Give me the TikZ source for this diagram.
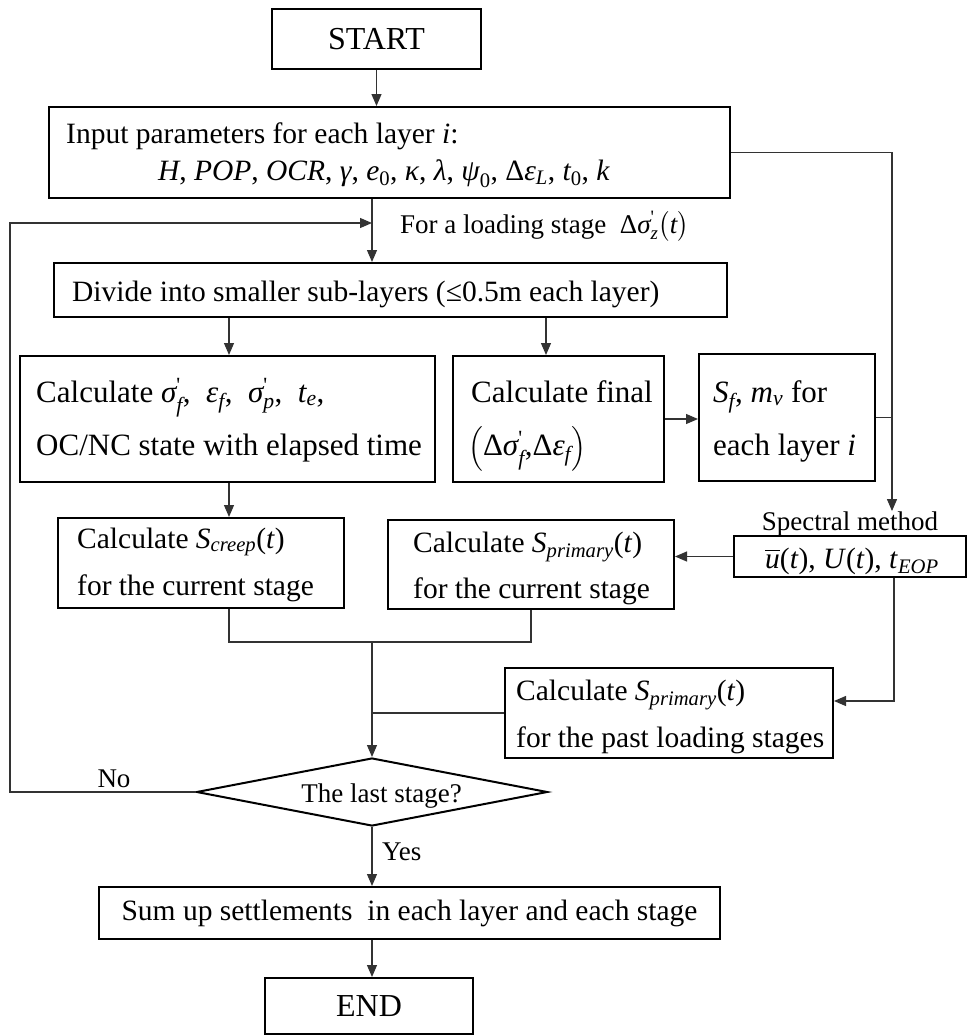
\documentclass[tikz,border=0pt]{standalone}
\usepackage{amsmath}
\usepackage{fontspec}
\setmainfont{Liberation Serif}
\usetikzlibrary{arrows.meta,shapes.geometric,calc}
\newcommand\iv[1]{\text{\itshape #1}}
\newcommand\tck{\text{\textquotesingle}}
\begin{document}
\begin{tikzpicture}[x=1pt,y=-1pt,
 box/.style={draw, line width=2pt, rectangle, inner sep=0pt},
 conn/.style={line width=1.2pt, draw=black!80},
 arr/.style={conn, -{Triangle[length=12pt,width=10pt]}},
 tA/.style={font=\fontsize{29.5}{34}\selectfont, inner sep=0pt},
 tB/.style={font=\fontsize{31}{36}\selectfont, inner sep=0pt},
 tS/.style={font=\fontsize{27}{32}\selectfont, inner sep=0pt},
 tT/.style={font=\fontsize{32}{38}\selectfont, inner sep=0pt}]
\useasboundingbox (0,0) rectangle (969,1036);
% helper coordinates
\coordinate (trunk) at (372,0);
\coordinate (loopx) at (10,0);
\coordinate (stagey) at (0,223);
\coordinate (rx) at (892,0);
\coordinate (rx2) at (894,0);
\coordinate (cx) at (229,0);
\coordinate (fx) at (546,0);
\coordinate (my) at (0,642);
\coordinate (pasty) at (0,701);
% boxes
\node[box, tT, minimum width=209pt, minimum height=60pt] (start) at (376.5,39) {START};
\node[box, minimum width=681pt, minimum height=91pt] (input) at (389.5,152.5) {};
\node[box, minimum width=673pt, minimum height=54pt] (divide) at (390.5,290) {};
\node[box, minimum width=415pt, minimum height=126pt] (calc1) at (227.5,419) {};
\node[box, minimum width=211pt, minimum height=126pt] (final) at (558.5,419) {};
\node[box, minimum width=176pt, minimum height=127pt] (sf) at (787,417.5) {};
\node[box, minimum width=232pt, minimum height=41pt] (spec) at (850,556.5) {};
\node[box, minimum width=286pt, minimum height=90pt] (creep) at (201,563) {};
\node[box, minimum width=286pt, minimum height=89pt] (prim) at (531,564.5) {};
\node[box, minimum width=328pt, minimum height=90pt] (past) at (669,713) {};
\node[draw, line width=2pt, diamond, inner sep=0pt, minimum width=351pt, minimum height=68pt] (dia) at (372,792) {};
\node[box, tA, minimum width=621pt, minimum height=52pt] (sum) at (409.5,913) {Sum up settlements\ \ in each layer and each stage};
\node[box, tT, minimum width=208pt, minimum height=56pt] (end) at (369,1006) {END};
% texts
\node[tA, anchor=base west] (in1) at (66,143) {Input parameters for each layer \textit{i}:};
\node[tA, anchor=base] (in2) at (384,180) {\textit{H}, \textit{POP}, \textit{OCR}, \textit{γ}, $\iv{e}_{\text{0}}$, \textit{κ}, \textit{λ}, $\iv{ψ}_{\text{0}}$, $\text{Δ}\iv{ε}_{\iv{L}}$, $\iv{t}_{\text{0}}$, \textit{k}};
\node[tS, anchor=base west] (stage) at (400,233) {For a loading stage\ \ $\text{Δ}\iv{σ}^{\tck}_{\iv{z}}\bigl(\iv{t}\bigr)$};
\node[tA, anchor=base west] (divt) at (72,301) {Divide into smaller sub-layers (≤0.5m each layer)};
\node[tB, anchor=base west] (c1a) at (36,402) {Calculate $\iv{σ}^{\tck}_{\iv{f}}$,\ \ $\iv{ε}_{\iv{f}}$,\ \ $\iv{σ}^{\tck}_{\iv{p}}$,\ \ $\iv{t}_{\iv{e}}$,};
\node[tB, anchor=base west] (c1b) at (36,455) {OC/NC state with elapsed time};
\node[tB, anchor=base west] (fa) at (471,402) {Calculate final};
\node[tB, anchor=base west] (fb) at (468,455) {$\Bigl(\text{Δ}\iv{σ}^{\tck}_{\iv{f}}\text{,}\text{Δ}\iv{ε}_{\iv{f}}\Bigr)$};
\node[tB, anchor=base west] (sfa) at (713,402) {$\iv{S}_{\iv{f}}$, $\iv{m}_{\iv{v}}$\ for};
\node[tB, anchor=base west] (sfb) at (713,455) {each layer \textit{i}};
\node[tS, anchor=base] (spectitle) at (850,530) {Spectral method};
\node[tA, anchor=base west] (spect) at (765,568) {$\overline{\iv{u}}$(\textit{t}), \textit{U}(\textit{t}), \textit{t}$_{\iv{EOP}}$};
\node[tA, anchor=base west] (cra) at (77,548) {Calculate \textit{S}$_{\iv{creep}}$(\textit{t})};
\node[tA, anchor=base west] (crb) at (77,595) {for the current stage};
\node[tA, anchor=base west] (pra) at (413,552) {Calculate \textit{S}$_{\iv{primary}}$(\textit{t})};
\node[tA, anchor=base west] (prb) at (413,598) {for the current stage};
\node[tA, anchor=base west] (pa) at (516,700) {Calculate \textit{S}$_{\iv{primary}}$(\textit{t})};
\node[tA, anchor=base west] (pb) at (516,747) {for the past loading stages};
\node[tS, anchor=base] (diat) at (381.5,802) {The last stage?};
\node[tS, anchor=base] (no) at (114,787) {No};
\node[tS, anchor=base west] (yes) at (382,860) {Yes};
% connectors
\draw[arr] (start.south) -- (start.south |- input.north);
\draw[arr] (input.south -| trunk) -- (divide.north -| trunk);
\draw[arr] (dia.west) -| (loopx |- stagey) -- (trunk |- stagey);
\draw[arr] (divide.south -| cx) -- (calc1.north -| cx);
\draw[arr] (divide.south -| fx) -- (final.north -| fx);
\draw[arr] (final.east) -- (final.east -| sf.west);
\draw[arr] (input.east) -| (rx |- spectitle.north);
\draw[conn] (sf.east) -- (sf.east -| rx);
\draw[arr] (spec.west) -- (spec.west -| prim.east);
\draw[arr] (spec.south -| rx2) |- (past.east |- pasty);
\draw[arr] (calc1.south -| cx) -- (creep.north -| cx);
\draw[conn] (creep.south -| cx) |- (prim.south |- my) -- (prim.south);
\draw[arr] (trunk |- my) -- (dia.north);
\draw[conn] (past.west) -- (past.west -| trunk);
\draw[arr] (dia.south) -- (dia.south |- sum.north);
\draw[arr] (sum.south -| trunk) -- (end.north -| trunk);
\end{tikzpicture}
\end{document}
